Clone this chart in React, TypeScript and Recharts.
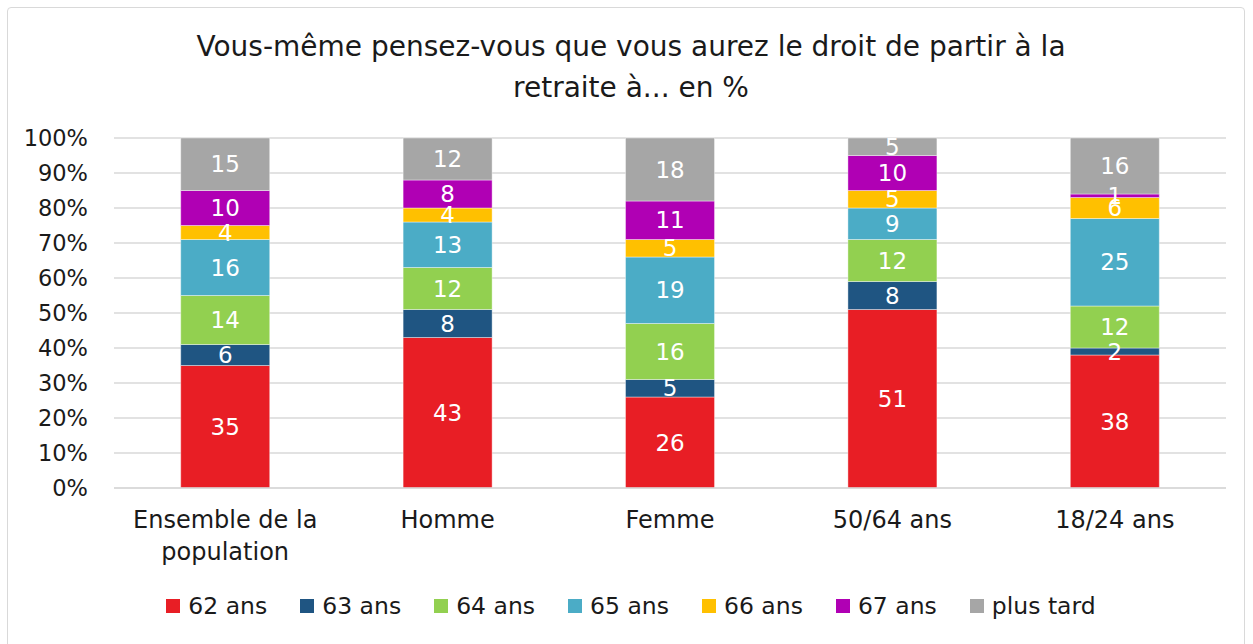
import React from 'react';
import { BarChart, Bar, XAxis, YAxis, CartesianGrid, LabelList } from 'recharts';

const categories = ['Ensemble de la population', 'Homme', 'Femme', '50/64 ans', '18/24 ans'];
const seriesNames = ['62 ans', '63 ans', '64 ans', '65 ans', '66 ans', '67 ans', 'plus tard'];
const seriesKeys = ['a62', 'a63', 'a64', 'a65', 'a66', 'a67', 'later'];
const colors = ['#E81E25', '#1F5582', '#92D050', '#4BACC6', '#FFC000', '#B000B4', '#A6A6A6'];

const a62 = [35, 43, 26, 51, 38];
const a63 = [6, 8, 5, 8, 2];
const a64 = [14, 12, 16, 12, 12];
const a65 = [16, 13, 19, 9, 25];
const a66 = [4, 4, 5, 5, 6];
const a67 = [10, 8, 11, 10, 1];
const later = [15, 12, 18, 5, 16];

const yTicks = [0, 10, 20, 30, 40, 50, 60, 70, 80, 90, 100];

const seriesValues = [a62, a63, a64, a65, a66, a67, later];

const data = categories.map((name, i) => {
  const row: Record<string, string | number> = { name };
  seriesKeys.forEach((k, s) => {
    row[k] = seriesValues[s][i];
  });
  return row;
});

const FONT = '"DejaVu Sans", sans-serif';

function wrap(text: string, max: number) {
  const words = text.split(' ');
  const lines: string[] = [];
  let cur = '';
  words.forEach((w) => {
    const next = cur ? cur + ' ' + w : w;
    if (next.length > max && cur) {
      lines.push(cur);
      cur = w;
    } else {
      cur = next;
    }
  });
  if (cur) lines.push(cur);
  return lines;
}

const CategoryTick = (props: any) => {
  const { x, y, payload } = props;
  const lines = wrap(payload.value, 15);
  return (
    <text x={x} y={y} textAnchor="middle" fill="#1a1a1a" fontSize={24} fontFamily={FONT}>
      {lines.map((l, i) => (
        <tspan key={i} x={x} dy={i === 0 ? 32 : 32}>
          {l}
        </tspan>
      ))}
    </text>
  );
};

export default function App() {
  return (
    <div
      style={{
        position: 'absolute',
        left: 0,
        top: 0,
        width: 1253,
        height: 644,
        background: '#fff',
        fontFamily: FONT,
      }}
    >
      <div
        style={{
          position: 'absolute',
          left: 7,
          top: 7,
          width: 1238,
          height: 645,
          border: '1px solid #D9D9D9',
          borderRadius: 4,
          boxSizing: 'border-box',
        }}
      />
      <div
        style={{
          position: 'absolute',
          left: 0,
          top: 26,
          width: 1262,
          textAlign: 'center',
          fontSize: 28,
          lineHeight: '41px',
          color: '#1a1a1a',
        }}
      >
        Vous-même pensez-vous que vous aurez le droit de partir à la
        <br />
        retraite à... en %
      </div>
      <div style={{ position: 'absolute', left: 0, top: 0 }}>
        <BarChart
          width={1253}
          height={644}
          data={data}
          margin={{ top: 138, right: 27, left: 0, bottom: 96 }}
          barCategoryGap="30%"
        >
          <CartesianGrid vertical={false} stroke="#D9D9D9" strokeWidth={1.5} />
          <XAxis
            dataKey="name"
            axisLine={{ stroke: '#D9D9D9', strokeWidth: 1.5 }}
            tickLine={false}
            tick={<CategoryTick />}
            interval={0}
            height={60}
          />
          <YAxis
            domain={[0, 100]}
            ticks={yTicks}
            tickFormatter={(v) => `${v}%`}
            axisLine={false}
            tickLine={false}
            width={114}
            tickMargin={20}
            tick={{ fill: '#1a1a1a', fontSize: 22.5, fontFamily: FONT }}
          />
          {seriesKeys.map((k, s) => (
            <Bar
              key={k}
              dataKey={k}
              name={seriesNames[s]}
              stackId="a"
              fill={colors[s]}
              stroke="#ffffff"
              strokeOpacity={0.5}
              strokeWidth={0.8}
              isAnimationActive={false}
            >
              <LabelList
                dataKey={k}
                position="center"
                fill="#ffffff"
                fontSize={23}
                fontFamily={FONT}
              />
            </Bar>
          ))}
        </BarChart>
      </div>
      <div
        style={{
          position: 'absolute',
          left: 0,
          top: 592,
          width: 1262,
          display: 'flex',
          justifyContent: 'center',
          gap: 33,
          fontSize: 23.5,
          color: '#1a1a1a',
        }}
      >
        {seriesNames.map((n, s) => (
          <div key={n} style={{ display: 'flex', alignItems: 'center', gap: 8 }}>
            <span style={{ width: 14, height: 14, background: colors[s], display: 'inline-block' }} />
            <span>{n}</span>
          </div>
        ))}
      </div>
    </div>
  );
}
